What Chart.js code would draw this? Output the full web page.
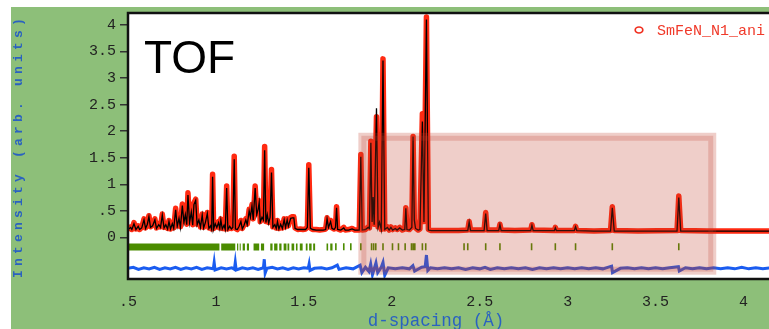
<!DOCTYPE html>
<html>
<head>
<meta charset="utf-8">
<script src="https://cdn.jsdelivr.net/npm/chart.js@4.4.1/dist/chart.umd.min.js"></script>
<style>
  html, body { margin: 0; padding: 0; background: #fff; overflow: hidden; }
</style>
</head>
<body>
<canvas id="rietveld" width="769" height="329"></canvas>
<script>
// tick labels
const xTicks = [0.5, 1, 1.5, 2, 2.5, 3, 3.5, 4];
const xTickLabels = ['.5', '1', '1.5', '2', '2.5', '3', '3.5', '4'];
const yTicks = [0, 0.5, 1, 1.5, 2, 2.5, 3, 3.5, 4];
const yTickLabels = ['0', '.5', '1', '1.5', '2', '2.5', '3', '3.5', '4'];

const dSpacing = [
  0.500, 0.515, 0.522, 0.534, 0.545, 0.558, 0.566, 0.578, 0.591, 0.600,
  0.610, 0.619, 0.628, 0.640, 0.653, 0.662, 0.675, 0.685, 0.695, 0.705,
  0.715, 0.725, 0.733, 0.742, 0.752, 0.760, 0.771, 0.780, 0.790, 0.798,
  0.809, 0.818, 0.826, 0.834, 0.841, 0.850, 0.860, 0.868, 0.875, 0.885,
  0.893, 0.903, 0.912, 0.922, 0.930, 0.940, 0.951, 0.960, 0.970, 0.976,
  0.981, 0.987, 0.996, 1.005, 1.015, 1.022, 1.028, 1.036, 1.046, 1.053,
  1.061, 1.068, 1.078, 1.088, 1.096, 1.104, 1.111, 1.122, 1.132, 1.142,
  1.150, 1.160, 1.170, 1.178, 1.189, 1.196, 1.205, 1.212, 1.223, 1.232,
  1.240, 1.246, 1.252, 1.262, 1.270, 1.277, 1.284, 1.292, 1.300, 1.308,
  1.316, 1.324, 1.335, 1.343, 1.350, 1.358, 1.368, 1.378, 1.388, 1.396,
  1.405, 1.412, 1.425, 1.435, 1.443, 1.450, 1.465, 1.480, 1.495, 1.510,
  1.520, 1.528, 1.537, 1.550, 1.570, 1.590, 1.610, 1.624, 1.632, 1.640,
  1.652, 1.660, 1.672, 1.680, 1.686, 1.692, 1.710, 1.727, 1.735, 1.755,
  1.774, 1.790, 1.815, 1.824, 1.832, 1.850, 1.866, 1.873, 1.881, 1.888,
  1.894, 1.900, 1.913, 1.922, 1.930, 1.940, 1.950, 1.960, 1.975, 1.985,
  1.995, 2.005, 2.020, 2.030, 2.045, 2.060, 2.074, 2.080, 2.086, 2.100,
  2.114, 2.121, 2.128, 2.135, 2.150, 2.160, 2.174, 2.183, 2.197, 2.208,
  2.225, 2.300, 2.380, 2.432, 2.440, 2.448, 2.525, 2.534, 2.542, 2.608,
  2.615, 2.622, 2.700, 2.790, 2.797, 2.804, 2.925, 2.930, 2.936, 3.038,
  3.045, 3.052, 3.150, 3.244, 3.254, 3.265, 3.400, 3.622, 3.632, 3.643,
  3.800, 4.000, 4.200
];
const observed = [
  0.16, 0.20, 0.15, 0.28, 0.16, 0.22, 0.15, 0.19, 0.35, 0.18,
  0.27, 0.41, 0.20, 0.24, 0.35, 0.18, 0.26, 0.20, 0.44, 0.19,
  0.25, 0.17, 0.32, 0.16, 0.28, 0.18, 0.55, 0.22, 0.38, 0.20,
  0.63, 0.30, 0.45, 0.25, 0.84, 0.30, 0.50, 0.24, 0.65, 0.72,
  0.25, 0.35, 0.20, 0.44, 0.19, 0.30, 0.47, 0.18, 0.24, 0.16,
  1.19, 0.17, 0.28, 0.20, 0.30, 0.18, 0.35, 0.17, 0.25, 0.16,
  0.97, 0.16, 0.22, 0.17, 0.20, 1.53, 0.17, 0.15, 0.22, 0.32,
  0.17, 0.24, 0.35, 0.25, 0.53, 0.40, 0.62, 0.35, 0.97, 0.45,
  0.55, 0.69, 0.30, 0.40, 0.35, 1.71, 0.30, 0.45, 0.28, 0.40,
  1.28, 0.20, 0.25, 0.18, 0.32, 0.17, 0.26, 0.18, 0.35, 0.20,
  0.35, 0.22, 0.38, 0.39, 0.39, 0.18, 0.15, 0.16, 0.15, 0.16,
  0.20, 1.37, 0.18, 0.15, 0.15, 0.14, 0.15, 0.16, 0.37, 0.20,
  0.32, 0.18, 0.16, 0.20, 0.58, 0.16, 0.14, 0.19, 0.14, 0.15,
  0.17, 0.14, 0.14, 1.56, 0.14, 0.15, 0.20, 0.18, 1.81, 0.30,
  0.78, 0.25, 2.27, 0.20, 0.30, 0.15, 3.36, 0.16, 0.20, 0.14,
  0.20, 0.15, 0.18, 0.15, 0.19, 0.14, 0.16, 0.56, 0.16, 0.15,
  0.20, 1.90, 0.35, 0.18, 0.14, 0.16, 2.33, 0.30, 4.15, 0.15,
  0.13, 0.13, 0.13, 0.14, 0.30, 0.14, 0.14, 0.47, 0.14, 0.14,
  0.25, 0.14, 0.13, 0.14, 0.24, 0.14, 0.13, 0.19, 0.13, 0.13,
  0.21, 0.13, 0.12, 0.13, 0.58, 0.13, 0.12, 0.13, 0.78, 0.13,
  0.12, 0.12, 0.12
];
const calculated = [
  0.15, 0.19, 0.15, 0.26, 0.15, 0.21, 0.15, 0.18, 0.33, 0.17,
  0.25, 0.39, 0.19, 0.22, 0.33, 0.17, 0.24, 0.19, 0.42, 0.18,
  0.24, 0.16, 0.30, 0.16, 0.26, 0.17, 0.52, 0.21, 0.36, 0.19,
  0.60, 0.28, 0.43, 0.24, 0.80, 0.28, 0.48, 0.23, 0.62, 0.70,
  0.24, 0.33, 0.19, 0.42, 0.18, 0.28, 0.45, 0.17, 0.22, 0.15,
  1.14, 0.16, 0.26, 0.19, 0.28, 0.17, 0.33, 0.16, 0.23, 0.15,
  0.93, 0.15, 0.21, 0.16, 0.19, 1.47, 0.16, 0.15, 0.21, 0.30,
  0.16, 0.23, 0.33, 0.24, 0.50, 0.38, 0.60, 0.33, 0.93, 0.43,
  0.53, 0.66, 0.29, 0.38, 0.33, 1.64, 0.28, 0.43, 0.27, 0.38,
  1.22, 0.19, 0.24, 0.17, 0.30, 0.16, 0.25, 0.17, 0.33, 0.19,
  0.33, 0.21, 0.36, 0.37, 0.37, 0.17, 0.15, 0.15, 0.15, 0.15,
  0.19, 1.31, 0.17, 0.15, 0.14, 0.14, 0.14, 0.15, 0.35, 0.19,
  0.30, 0.17, 0.15, 0.19, 0.56, 0.15, 0.14, 0.18, 0.14, 0.14,
  0.16, 0.14, 0.14, 1.52, 0.14, 0.15, 0.19, 0.17, 1.78, 0.29,
  0.76, 0.24, 2.43, 0.19, 0.29, 0.15, 3.33, 0.15, 0.19, 0.14,
  0.19, 0.14, 0.17, 0.14, 0.18, 0.14, 0.15, 0.55, 0.15, 0.14,
  0.19, 1.90, 0.33, 0.17, 0.14, 0.15, 2.18, 0.29, 4.10, 0.14,
  0.13, 0.13, 0.13, 0.13, 0.29, 0.13, 0.13, 0.45, 0.13, 0.13,
  0.24, 0.13, 0.13, 0.13, 0.23, 0.13, 0.13, 0.18, 0.13, 0.13,
  0.20, 0.13, 0.12, 0.12, 0.56, 0.12, 0.12, 0.12, 0.75, 0.12,
  0.12, 0.12, 0.12
];

// difference curve (obs - calc, offset)
const diffD = [
  0.50, 0.53, 0.56, 0.59, 0.62, 0.65, 0.68, 0.71, 0.74, 0.77,
  0.80, 0.83, 0.86, 0.89, 0.92, 0.95, 0.985, 0.99, 0.995, 1.03,
  1.06, 1.09, 1.105, 1.11, 1.115, 1.15, 1.18, 1.21, 1.24, 1.27,
  1.275, 1.28, 1.29, 1.32, 1.35, 1.38, 1.41, 1.44, 1.47, 1.50,
  1.525, 1.53, 1.535, 1.56, 1.60, 1.63, 1.66, 1.69, 1.70, 1.74,
  1.78, 1.82, 1.83, 1.85, 1.87, 1.88, 1.89, 1.91, 1.92, 1.94,
  1.95, 1.96, 1.98, 2.02, 2.06, 2.10, 2.12, 2.13, 2.17, 2.19,
  2.197, 2.205, 2.22, 2.26, 2.30, 2.34, 2.38, 2.42, 2.46, 2.50,
  2.53, 2.56, 2.60, 2.64, 2.68, 2.72, 2.76, 2.80, 2.84, 2.88,
  2.92, 2.96, 3.00, 3.04, 3.08, 3.12, 3.16, 3.20, 3.25, 3.255,
  3.30, 3.34, 3.38, 3.42, 3.46, 3.50, 3.54, 3.58, 3.63, 3.635,
  3.67, 3.71, 3.75, 3.79, 3.83, 3.87, 3.91, 3.95, 3.99, 4.03,
  4.07, 4.11, 4.15
];
const diffValues = [
  -0.58, -0.56, -0.60, -0.57, -0.59, -0.56, -0.60, -0.57, -0.59, -0.56,
  -0.60, -0.57, -0.59, -0.56, -0.60, -0.57, -0.59, -0.47, -0.61, -0.57,
  -0.59, -0.57, -0.60, -0.47, -0.61, -0.57, -0.59, -0.57, -0.60, -0.57,
  -0.41, -0.67, -0.58, -0.56, -0.59, -0.57, -0.60, -0.57, -0.59, -0.57,
  -0.58, -0.50, -0.62, -0.58, -0.57, -0.59, -0.57, -0.52, -0.60, -0.57,
  -0.59, -0.52, -0.66, -0.56, -0.64, -0.50, -0.70, -0.48, -0.66, -0.56,
  -0.47, -0.71, -0.57, -0.59, -0.57, -0.59, -0.53, -0.63, -0.56, -0.55,
  -0.33, -0.62, -0.57, -0.59, -0.57, -0.59, -0.57, -0.60, -0.57, -0.59,
  -0.56, -0.60, -0.57, -0.59, -0.57, -0.59, -0.57, -0.60, -0.57, -0.59,
  -0.57, -0.59, -0.57, -0.59, -0.57, -0.59, -0.57, -0.59, -0.54, -0.66,
  -0.58, -0.57, -0.59, -0.57, -0.59, -0.57, -0.59, -0.57, -0.55, -0.63,
  -0.57, -0.59, -0.57, -0.59, -0.57, -0.59, -0.57, -0.59, -0.56, -0.59,
  -0.57, -0.59, -0.57
];

// reflection markers: dense runs and single ticks
const reflBands = [
  [0.505, 1.02], [1.03, 1.11], [1.12, 1.127], [1.135, 1.141], [1.152, 1.165],
  [1.176, 1.188], [1.214, 1.246], [1.256, 1.274], [1.309, 1.322], [1.331, 1.35],
  [1.36, 1.373], [1.385, 1.401], [1.407, 1.417], [1.43, 1.445], [1.455, 1.464],
  [1.477, 1.493], [1.511, 1.521], [1.53, 1.544], [1.553, 1.564], [1.629, 1.638],
  [1.65, 1.663]
];
const reflTicks = [
  1.682, 1.727, 1.767, 1.824, 1.885, 1.897, 1.909, 1.95, 2.004, 2.038,
  2.076, 2.112, 2.122, 2.131, 2.174, 2.193, 2.411, 2.432, 2.534, 2.615,
  2.795, 2.93, 3.045, 3.254, 3.632
];

// shaded zoom region (d range, intensity range)
const shadeD = [1.81, 3.845];
const shadeI = [-0.70, 1.97];

const TICK_TOP = -0.107, TICK_BOTTOM = -0.242, BAND_MID = -0.177;

const obsPts = dSpacing.map((d, i) => ({ x: d, y: observed[i] }));
const calcPts = dSpacing.map((d, i) => ({ x: d, y: calculated[i] }));
const diffPts = diffD.map((d, i) => ({ x: d, y: diffValues[i] }));
const bandPts = [];
reflBands.forEach(b => {
  bandPts.push({ x: b[0], y: BAND_MID }, { x: b[1], y: BAND_MID }, { x: b[1], y: null });
});
const tickPts = [];
reflTicks.forEach(d => {
  tickPts.push({ x: d, y: TICK_TOP }, { x: d, y: TICK_BOTTOM }, { x: d, y: null });
});

const plotDecor = {
  id: 'plotDecor',
  beforeDraw(chart) {
    const { ctx, width, height, chartArea: a } = chart;
    ctx.save();
    ctx.fillStyle = '#ffffff';
    ctx.fillRect(0, 0, width, height);
    ctx.fillStyle = '#8dbf79';
    ctx.fillRect(11, 7, width - 11, height - 7);
    ctx.fillStyle = '#ffffff';
    ctx.fillRect(a.left, a.top, a.right - a.left, a.bottom - a.top);
    ctx.restore();
  },
  afterDatasetsDraw(chart) {
    const { ctx, chartArea: a, scales: { x, y } } = chart;
    const l = x.getPixelForValue(shadeD[0]), r = x.getPixelForValue(shadeD[1]);
    const t = y.getPixelForValue(shadeI[1]), b = y.getPixelForValue(shadeI[0]);
    ctx.save();
    ctx.fillStyle = 'rgba(190, 60, 40, 0.25)';
    ctx.fillRect(l, t, r - l, b - t);
    ctx.strokeStyle = 'rgba(190, 60, 40, 0.22)';
    ctx.lineWidth = 5;
    ctx.strokeRect(l + 5.5, t + 5.5, r - l - 11, b - t - 11);

    // frame (left, top, bottom)
    ctx.strokeStyle = '#111';
    ctx.lineWidth = 2.5;
    ctx.beginPath();
    ctx.moveTo(a.right + 3, a.top);
    ctx.lineTo(a.left, a.top);
    ctx.lineTo(a.left, a.bottom);
    ctx.lineTo(a.right + 3, a.bottom);
    ctx.stroke();
    ctx.restore();
  },
  afterDraw(chart) {
    const { ctx } = chart;
    ctx.save();
    // big label
    ctx.fillStyle = '#000';
    ctx.font = '46px "Liberation Sans"';
    ctx.textBaseline = 'alphabetic';
    ctx.fillText('TOF', 144, 73);

    // legend
    ctx.strokeStyle = '#f03020';
    ctx.lineWidth = 1.7;
    ctx.beginPath();
    ctx.ellipse(639, 30, 3.8, 3, 0, 0, Math.PI * 2);
    ctx.stroke();
    ctx.fillStyle = '#f03a2a';
    ctx.font = '15px "Liberation Mono"';
    ctx.fillText('SmFeN_N1_ani', 657, 35);

    // axis titles
    ctx.fillStyle = '#2a62c0';
    ctx.font = '17.5px "Liberation Mono"';
    ctx.textAlign = 'center';
    ctx.fillText('d-spacing (\u00C5)', 436, 326);

    ctx.translate(19, 146);
    ctx.rotate(-Math.PI / 2);
    ctx.font = 'bold 13px "Liberation Mono"';
    ctx.letterSpacing = '4.2px';
    ctx.textBaseline = 'middle';
    ctx.fillText('Intensity (arb. units)', 0, 0);
    ctx.restore();
  }
};

new Chart(document.getElementById('rietveld'), {
  type: 'scatter',
  data: {
    datasets: [
      { label: 'Calc', data: calcPts, showLine: true, borderColor: '#000', borderWidth: 1.3,
        pointRadius: 0, order: 1, clip: 0 },
      { label: 'SmFeN_N1_ani', data: obsPts, showLine: true, borderColor: '#ff2a12', borderWidth: 5.5,
        borderJoinStyle: 'round', borderCapStyle: 'round', pointRadius: 0, order: 2, clip: 0 },
      { label: 'Reflections', data: bandPts, showLine: true, borderColor: '#4b8c00', borderWidth: 7,
        borderCapStyle: 'butt', pointRadius: 0, spanGaps: false, order: 3, clip: 0 },
      { label: 'Reflection ticks', data: tickPts, showLine: true, borderColor: '#4b8c00', borderWidth: 1.6,
        borderCapStyle: 'butt', pointRadius: 0, spanGaps: false, order: 3, clip: 0 },
      { label: 'Difference', data: diffPts, showLine: true, borderColor: '#1a5cf0', borderWidth: 3,
        pointRadius: 0, order: 3, clip: 0 }
    ]
  },
  options: {
    responsive: false,
    animation: false,
    events: [],
    layout: { padding: { top: 10, left: 0, right: 0, bottom: 0 } },
    plugins: { legend: { display: false }, tooltip: { enabled: false } },
    scales: {
      x: {
        type: 'linear', min: 0.5, max: 4.145,
        afterFit: s => { s.height = 50; },
        afterBuildTicks: s => { s.ticks = xTicks.map(v => ({ value: v })); },
        ticks: {
          callback: v => xTickLabels[xTicks.indexOf(v)],
          font: { family: 'Liberation Mono', size: 15 }, color: '#222',
          padding: 14, maxRotation: 0, autoSkip: false
        },
        grid: { display: false, drawTicks: false },
        border: { display: false }
      },
      y: {
        type: 'linear', min: -0.781, max: 4.223,
        afterFit: s => { s.width = 128; },
        afterBuildTicks: s => { s.ticks = yTicks.map(v => ({ value: v })); },
        ticks: {
          callback: v => yTickLabels[yTicks.indexOf(v)],
          font: { family: 'Liberation Mono', size: 15 }, color: '#222',
          padding: 4, autoSkip: false
        },
        grid: { drawOnChartArea: false, tickLength: 8, color: '#333', lineWidth: 1.5 },
        border: { display: false }
      }
    }
  },
  plugins: [plotDecor]
});
</script>
</body>
</html>
